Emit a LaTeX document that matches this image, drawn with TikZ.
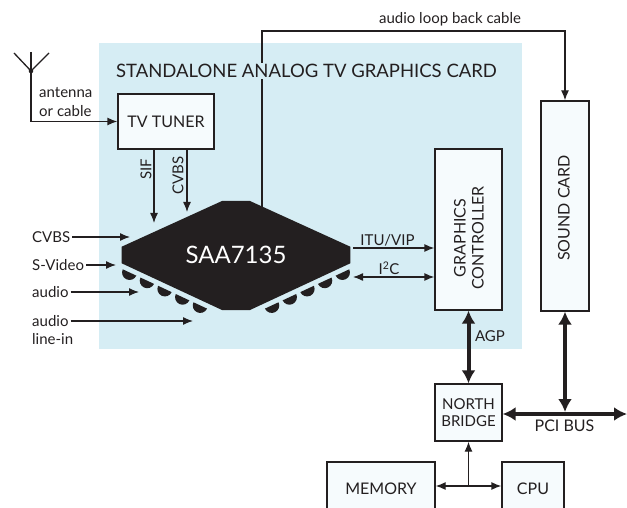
\documentclass[tikz,border=0pt]{standalone}
\usepackage{fontspec}
\setmainfont{Lato}
\usetikzlibrary{arrows.meta}

\definecolor{ink}{RGB}{35,31,32}
\definecolor{cardblue}{RGB}{214,237,244}
\definecolor{boxwhite}{RGB}{246,251,253}

\tikzset{
  blk/.style={draw=ink, fill=boxwhite, line width=1.3pt, inner sep=0pt, text=ink, font=\fontsize{16}{18}\selectfont},
  lbl/.style={text=ink, inner sep=2pt, font=\fontsize{15}{19}\selectfont},
  wire/.style={draw=ink, line width=1.3pt, -{Latex[length=10pt,width=8pt]}},
  wire2/.style={draw=ink, line width=1.3pt, {Latex[length=10pt,width=8pt]}-{Latex[length=10pt,width=8pt]}},
  bus/.style={draw=ink, line width=4pt, {Latex[length=13pt,width=14pt]}-{Latex[length=13pt,width=14pt]}}
}

\begin{document}
\begin{tikzpicture}[x=1pt,y=-1pt]
\useasboundingbox (0,0) rectangle (627,508);
\clip (0,0) rectangle (627,508);
\fill[cardblue] (99,43) rectangle (522,349);

% antenna
\coordinate (ant) at (31,71);
\coordinate (mast) at (31,52);
\draw[ink,line width=1.3pt] (14,53) -- (ant) -- (49,53);
\fill[ink] (ant) circle (2.3);
\node[lbl, anchor=west, align=left] (antlbl) at (37,102) {antenna\\or cable};

% tuner
\node[blk, minimum width=96pt, minimum height=55pt] (tuner) at (166,121.5) {TV TUNER};
\draw[wire] (mast) |- (tuner.west);

\coordinate (sifin) at (154,223);
\coordinate (cvbsin) at (187,212);
\draw[wire] (tuner.south -| sifin) -- (sifin);
\draw[wire] (tuner.south -| cvbsin) -- (cvbsin);
\node[lbl, rotate=90] (siflbl) at (146,169.5) {SIF};
\node[lbl, rotate=90] (cvbslbl) at (178,175.5) {CVBS};

% loop back cable
\coordinate (loop) at (262,220);
\coordinate (bend) at (262,31);
\node[blk, minimum width=48pt, minimum height=210pt] (sound) at (565,206) {};
\node[blk, draw=none, fill=none, rotate=90] (soundtxt) at (564,208) {SOUND CARD};
\draw[wire] (loop) -- (bend) -| (sound.north);
\node[lbl] (looplbl) at (450,19) {audio loop back cable};

\node[lbl, fill=cardblue, inner sep=1pt, font=\fontsize{18.5}{20}\selectfont] (title) at (306.5,71) {STANDALONE ANALOG TV GRAPHICS CARD};

% chip
\fill[ink] (121.7,246.7) -- (222,201) -- (250,201) -- (350.3,246.7) -- (350.3,263.3)
  -- (250,310) -- (222,310) -- (121.7,263.3) -- cycle;
\node[text=white, font=\fontsize{24}{24}\selectfont] (chip) at (236,255) {SAA7135};
\foreach \s/\o in {1/0,-1/472}
  \foreach \t in {11,30.5,50,69.5,89}
    \fill[ink, shift={(\o,0)}, xscale=\s, shift={(121.7,263.3)}, rotate=-25]
      (\t,5) ++(7.5,0) arc[start angle=0, end angle=180, radius=7.5] -- cycle;

% inputs
\node[lbl, anchor=west] (cvbs) at (30,237) {CVBS};
\node[lbl, anchor=west] (svid) at (30,265) {S-Video};
\node[lbl, anchor=west] (aud) at (30,292) {audio};
\node[lbl, anchor=west] (linein) at (30,321) {audio};
\node[lbl, anchor=west] (lineinb) at (30,339) {line-in};
\coordinate (cvbsp) at (130,237);
\coordinate (svidp) at (116,265);
\coordinate (audp) at (139,292);
\coordinate (lineinp) at (193,321);
\draw[wire] (cvbs) -- (cvbsp);
\draw[wire] (svid) -- (svidp);
\draw[wire] (aud) -- (audp);
\draw[wire] (linein) -- (lineinp);

% graphics controller
\node[blk, minimum width=67pt, minimum height=161pt] (gfx) at (468.5,229.5) {};
\node[blk, draw=none, fill=none, rotate=90, align=center] (gfxtxt) at (469,238) {GRAPHICS\\CONTROLLER};
\coordinate (itu) at (353,248);
\coordinate (iic) at (353,277);
\draw[wire] (itu) -- (itu -| gfx.west);
\draw[wire2] (iic) -- (iic -| gfx.west);
\node[lbl] (itulbl) at (387.5,240) {ITU/VIP};
\node[lbl] (iiclbl) at (389,268) {I\textsuperscript{2}C};

% system side
\node[blk, minimum width=67pt, minimum height=57pt, align=center, font=\fontsize{15}{17}\selectfont] (nb) at (468.5,412.5) {NORTH\\BRIDGE};
\draw[bus] (gfx.south) -- (nb.north);
\node[lbl] (agplbl) at (490,336) {AGP};

\coordinate (pciend) at (627,414);
\draw[bus] (nb.east |- pciend) -- (pciend);
\draw[bus, shorten >=2pt] (sound.south) -- (sound.south |- pciend);
\node[lbl, font=\fontsize{16}{18}\selectfont] (pcilbl) at (564.5,426) {PCI BUS};

\node[blk, minimum width=108pt, minimum height=54pt] (mem) at (381,489) {MEMORY};
\node[blk, minimum width=62pt, minimum height=54pt] (cpu) at (533,489) {CPU};
\coordinate (hub) at (468.5,486);
\draw[wire2] (mem.east |- hub) -- (cpu.west |- hub);
\draw[wire] (hub) -- (nb.south);
\end{tikzpicture}
\end{document}
